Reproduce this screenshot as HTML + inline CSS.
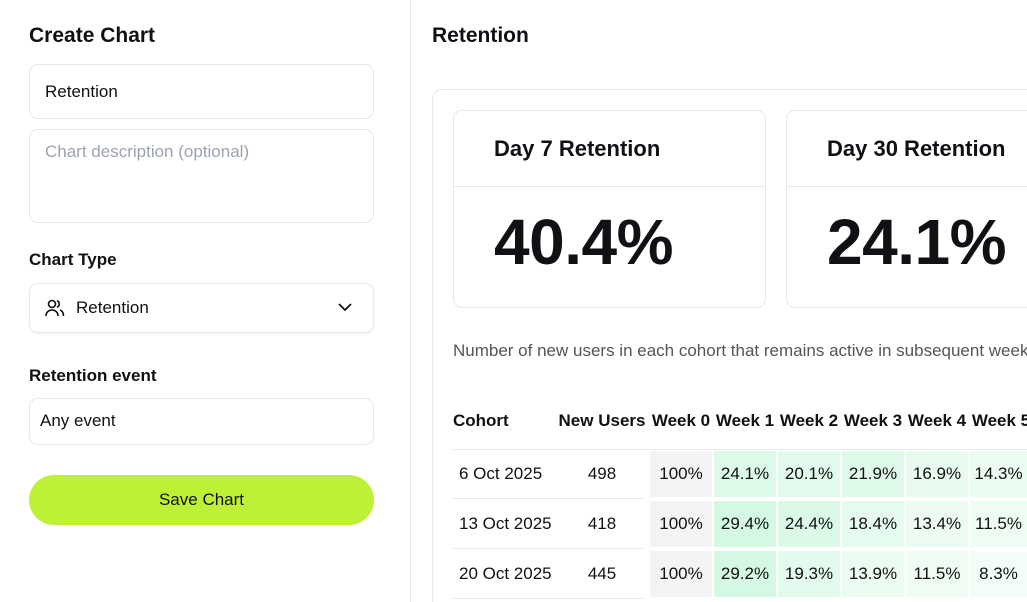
<!DOCTYPE html>
<html><head><meta charset="utf-8"><style>
*{box-sizing:border-box;margin:0;padding:0}
html,body{width:1027px;height:602px;overflow:hidden}
body{background:#fff;font-family:"Liberation Sans",sans-serif;color:#0f1115;position:relative}
#clip{position:absolute;left:0;top:0;width:1027px;height:602px;overflow:hidden}
.a{position:absolute}
.inp{position:absolute;border:1px solid #e5e7eb;border-radius:9px;background:#fff;font-size:17px;color:#111}
.lbl{position:absolute;font-size:17px;font-weight:bold;color:#111}
.cell{position:absolute;display:flex;align-items:center;justify-content:center;font-size:17px;color:#111}
</style></head><body><div id="clip">
<div class="a" style="left:0;top:0;width:411px;height:602px;border-right:1px solid #e5e7eb"></div>
<div class="a" style="left:29px;top:24px;font-size:21px;font-weight:bold">Create Chart</div>
<div class="inp" style="left:29px;top:64px;width:345px;height:55px;padding:17px 15px">Retention</div>
<div class="inp" style="left:29px;top:129px;width:345px;height:94px;padding:12px 15px;color:#9ca3af">Chart description (optional)</div>
<div class="lbl" style="left:29px;top:250px">Chart Type</div>
<div class="inp" style="left:29px;top:283px;width:345px;height:50px;padding:14px 0 0 46px;box-shadow:0 1px 2px rgba(0,0,0,.06)">Retention
<svg class="a" style="left:15px;top:15px" width="20" height="18" viewBox="0 0 20 18" fill="none" stroke="#111" stroke-width="1.6"><circle cx="7" cy="5" r="3.5"/><path d="M1 17c0-4 3-6 6-6s6 2 6 6"/><path d="M12 1.8a3.4 3.4 0 0 1 0 6.4M15 11c2 .7 3.5 2.7 3.5 6"/></svg>
<svg class="a" style="left:308px;top:19px" width="14" height="9" viewBox="0 0 14 9" fill="none" stroke="#111" stroke-width="1.7"><path d="M1 1l6 6 6-6"/></svg></div>
<div class="lbl" style="left:29px;top:366px">Retention event</div>
<div class="inp" style="left:29px;top:398px;width:345px;height:47px;padding:12px 10px">Any event</div>
<div class="a" style="left:29px;top:475px;width:345px;height:50px;border-radius:25px;background:#bef135;font-size:17px;text-align:center;line-height:50px;color:#111">Save Chart</div>

<div class="a" style="left:432px;top:24px;font-size:21px;font-weight:bold">Retention</div>
<div class="a" style="left:432px;top:89px;width:600px;height:513px;border:1px solid #e5e7eb;border-bottom:none;border-right:none;border-radius:10px 0 0 0"></div>
<div class="a" style="left:453px;top:110px;width:313px;height:198px;border:1px solid #e5e7eb;border-radius:9px">
<div class="a" style="left:40px;top:25px;font-size:22px;font-weight:bold">Day 7 Retention</div>
<div class="a" style="left:0;top:75px;width:311px;border-top:1px solid #e5e7eb"></div>
<div class="a" style="left:40px;top:94px;font-size:64px;font-weight:bold;letter-spacing:-0.5px">40.4%</div></div>
<div class="a" style="left:786px;top:110px;width:241px;height:198px;border:1px solid #e5e7eb;border-right:none;border-radius:9px 0 0 9px">
<div class="a" style="left:40px;top:25px;font-size:22px;font-weight:bold;white-space:nowrap">Day 30 Retention</div>
<div class="a" style="left:0;top:75px;width:240px;border-top:1px solid #e5e7eb"></div>
<div class="a" style="left:40px;top:94px;font-size:64px;font-weight:bold;letter-spacing:-0.5px">24.1%</div></div>
<div class="a" style="left:453px;top:341px;width:574px;overflow:hidden;font-size:17px;color:#555;white-space:nowrap">Number of new users in each cohort that remains active in subsequent weeks</div>
<div id="tbl"></div>
</div>
<script>
const cohorts=["6 Oct 2025","13 Oct 2025","20 Oct 2025"];
const newUsers=[498,418,445];
const weeks=["Week 0","Week 1","Week 2","Week 3","Week 4","Week 5"];
const rates=[[100,24.1,20.1,21.9,16.9,14.3],[100,29.4,24.4,18.4,13.4,11.5],[100,29.2,19.3,13.9,11.5,8.3]];
const t=document.getElementById('tbl');
function add(x,y,w,h,txt,name,style){const d=document.createElement('div');d.className='cell';d.style.cssText=`left:${x}px;top:${y}px;width:${w}px;height:${h}px;`+(style||'');d.textContent=txt;


t.appendChild(d);return d;}
const colX=i=>649+i*64, rowY=r=>451+r*50;
add(453,405,100,32,"Cohort","header-cohort","justify-content:flex-start;font-weight:bold");
add(556,405,92,32,"New Users","header-new-users","font-weight:bold;white-space:nowrap");
weeks.forEach((w,i)=>add(colX(i),405,64,32,w,"header-week-"+i,"font-weight:bold;white-space:nowrap"));
const ln=document.createElement('div');ln.className='a';ln.style.cssText='left:453px;top:449px;width:574px;border-top:1px solid #e5e7eb';


t.appendChild(ln);
cohorts.forEach((c,r)=>{
 add(453,rowY(r),190,48,"","row-divider","border-bottom:1px solid #e5e7eb");
 add(459,rowY(r),120,46,c,"cohort-label-"+r,"justify-content:flex-start");
 add(560,rowY(r),84,46,String(newUsers[r]),"new-users-"+r);
 rates[r].forEach((v,i)=>{
  let bg;
  if(i===0)bg='#f4f4f6';else{const k=Math.min(1,v/35);bg=`rgb(${Math.round(255-k*(255-205))},${Math.round(255-k*(255-247))},${Math.round(255-k*(255-220))})`;}
  const w=Math.min(62,1027-(colX(i)+1));
  add(colX(i)+1,rowY(r),w,46,(i===0?v:v.toFixed(1))+"%","cell-r"+r+"-w"+i,"background:"+bg+";overflow:hidden;white-space:nowrap");
 });
});
</script>
</body></html>
